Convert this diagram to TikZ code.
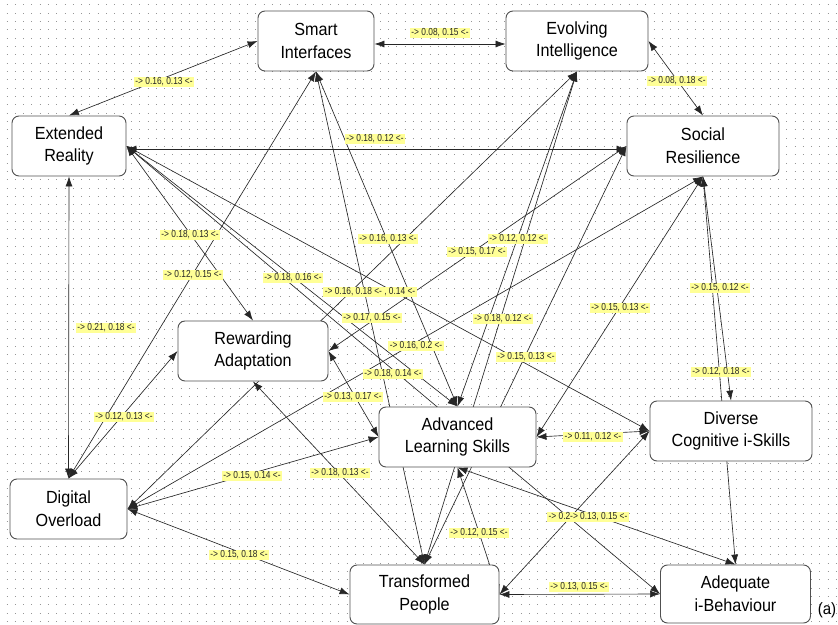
\documentclass[tikz,border=0pt]{standalone}
\usepackage{fontspec}
\setmainfont{Liberation Sans}
\newfontfamily\nodefont[FakeStretch=0.92]{Liberation Sans}
\newfontfamily\lblfont[FakeStretch=0.82]{Liberation Sans}
\usetikzlibrary{arrows.meta,calc}
\pgfdeclarelayer{bg}
\pgfdeclarelayer{edges}
\pgfsetlayers{bg,edges,main}
\definecolor{lblyellow}{RGB}{255,255,150}
\definecolor{boxgray}{RGB}{80,80,80}
\definecolor{dotgray}{RGB}{150,150,150}
\tikzset{
  concept/.style={draw=boxgray, line width=0.8pt, rounded corners=6pt, fill=white,
    align=center, inner sep=0pt, font=\nodefont\fontsize{15}{19.5}\selectfont},
  wlabel/.style={fill=lblyellow, text=black!85, inner xsep=1.5pt, inner ysep=1pt,
    font=\lblfont\fontsize{8.7}{9}\selectfont},
  link/.style={draw=black!85, line width=0.55pt,
    {Latex[length=8.5pt,width=6pt]}-{Latex[length=8.5pt,width=6pt]}},
}
\begin{document}
\begin{tikzpicture}[x=0.03cm,y=-0.03cm]
\useasboundingbox (0,0) rectangle (838,625);
\begin{pgfonlayer}{bg}
  \fill[white] (0,0) rectangle (838,625);
  \foreach \r in {0,...,74}{
    \draw[dotgray, line width=0.85pt, dash pattern=on 0.85pt off 6.23pt]
      (6.5,{5+\r*8.33}) -- (838,{5+\r*8.33});
  }
\end{pgfonlayer}

% concepts
\node[concept, minimum width=3.48cm, minimum height=1.8cm] (si) at (316,41) {Smart\\Interfaces};
\node[concept, minimum width=4.26cm, minimum height=1.8cm] (ei) at (577,41) {Evolving\\Intelligence};
\node[concept, minimum width=3.42cm, minimum height=1.8cm] (er) at (69,146) {Extended\\Reality};
\node[concept, minimum width=4.56cm, minimum height=1.8cm] (sr) at (703,146) {Social\\Resilience};
\node[concept, minimum width=4.5cm, minimum height=1.8cm] (ra) at (253,351) {Rewarding\\Adaptation};
\node[concept, minimum width=4.71cm, minimum height=1.8cm] (als) at (457.5,437) {Advanced\\Learning Skills};
\node[concept, minimum width=4.86cm, minimum height=1.8cm] (dc) at (731,431) {Diverse\\Cognitive i-Skills};
\node[concept, minimum width=3.51cm, minimum height=1.8cm] (do) at (68.5,509) {Digital\\Overload};
\node[concept, minimum width=4.47cm, minimum height=1.77cm] (tp) at (424.5,594.5) {Transformed\\People};
\node[concept, minimum width=4.5cm, minimum height=1.74cm] (aib) at (735.5,594) {Adequate\\i-Behaviour};
\node[font=\nodefont\fontsize{14}{16}\selectfont, inner sep=0pt] (tag) at (827,610) {(a)};

% connectors
\begin{pgfonlayer}{edges}
  \draw[link] ($(si.east)+(0,3)$) -- ($(ei.west)+(0,3)$);
  \draw[link] (er.north) -- (si.west);
  \draw[link] (ei.east) -- (sr.north);
  \draw[link] ($(er.east)+(0,3)$) -- ($(sr.west)+(0,3)$);
  \draw[link] (er.east) -- (ra.north);
  \draw[link] (si.south) -- (do.north);
  \draw[link] (er.south) -- (do.north);
  \draw[link] (do.north) -- (ra.west);
  \draw[link] (er.east) -- (als.north);
  \draw[link] (ei.south) -- (do.east);
  \draw[link] (er.east) -- (dc.west);
  \draw[link] (si.south) -- (als.north);
  \draw[link] (ra.east) -- (sr.west);
  \draw[link] (ei.south) -- (als.north);
  \draw[link] (si.south) -- (tp.north);
  \draw[link] (do.east) -- (sr.south);
  \draw[link] (er.east) -- (aib.west);
  \draw[link] (ra.east) -- (als.west);
  \draw[link] (ei.south) -- (tp.north);
  \draw[link] (sr.west) -- (tp.north);
  \draw[link] (sr.south) -- (als.east);
  \draw[link] (sr.south) -- (dc.north);
  \draw[link] (sr.south) -- (aib.north);
  \draw[link] (als.east) -- (dc.west);
  \draw[link] (do.east) -- (als.west);
  \draw[link] (ra.south) -- (tp.north);
  \draw[link] (do.east) -- (tp.west);
  \draw[link] (als.south) -- (tp.east);
  \draw[link] (dc.west) -- (tp.east);
  \draw[link] (als.south) -- (aib.north);
  \draw[link] (tp.east) -- (aib.west);
\end{pgfonlayer}

% weight labels
\node[wlabel] (w1) at (440,33) {-> 0.08, 0.15 <-};
\node[wlabel] (w2) at (164,82) {-> 0.16, 0.13 <-};
\node[wlabel] (w3) at (677,81) {-> 0.08, 0.18 <-};
\node[wlabel] (w4) at (375,139) {-> 0.18, 0.12 <-};
\node[wlabel] (w5) at (190,235) {-> 0.18, 0.13 <-};
\node[wlabel] (w6) at (193,275) {-> 0.12, 0.15 <-};
\node[wlabel] (w7) at (106,328) {-> 0.21, 0.18 <-};
\node[wlabel] (w8) at (124,417) {-> 0.12, 0.13 <-};
\node[wlabel] (w9) at (293,278) {-> 0.18, 0.16 <-};
\node[wlabel] (w10) at (370,292) {-> 0.16, 0.18 <- , 0.14 <-};
\node[wlabel] (w11) at (388,239) {-> 0.16, 0.13 <-};
\node[wlabel] (w12) at (477,252) {-> 0.15, 0.17 <-};
\node[wlabel] (w13) at (518,239) {-> 0.12, 0.12 <-};
\node[wlabel] (w14) at (372,318) {-> 0.17, 0.15 <-};
\node[wlabel] (w15) at (416,346) {-> 0.16, 0.2 <-};
\node[wlabel] (w16) at (393,374) {-> 0.18, 0.14 <-};
\node[wlabel] (w17) at (353,397) {-> 0.13, 0.17 <-};
\node[wlabel] (w18) at (503,319) {-> 0.18, 0.12 <-};
\node[wlabel] (w19) at (526,357) {-> 0.15, 0.13 <-};
\node[wlabel] (w20) at (620,308) {-> 0.15, 0.13 <-};
\node[wlabel] (w21) at (720,288) {-> 0.15, 0.12 <-};
\node[wlabel] (w22) at (721,372) {-> 0.12, 0.18 <-};
\node[wlabel] (w23) at (593,437) {-> 0.11, 0.12 <-};
\node[wlabel] (w24) at (252,476) {-> 0.15, 0.14 <-};
\node[wlabel] (w25) at (340,473) {-> 0.18, 0.13 <-};
\node[wlabel] (w26) at (239,555) {-> 0.15, 0.18 <-};
\node[wlabel] (w27) at (479,533) {-> 0.12, 0.15 <-};
\node[wlabel] (w28) at (588,517) {-> 0.2-> 0.13, 0.15 <-};
\node[wlabel] (w29) at (579,587) {-> 0.13, 0.15 <-};
\end{tikzpicture}
\end{document}
